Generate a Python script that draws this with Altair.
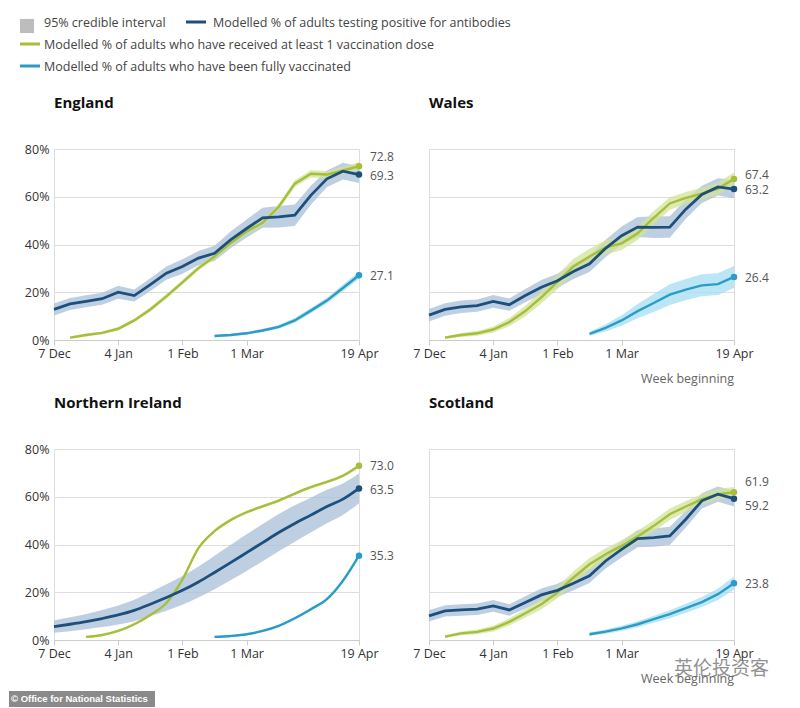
import altair as alt
import pandas as pd

# ---------------- data ----------------
WEEKS = ["2020-12-07", "2020-12-14", "2020-12-21", "2020-12-28", "2021-01-04",
         "2021-01-11", "2021-01-18", "2021-01-25", "2021-02-01", "2021-02-08",
         "2021-02-15", "2021-02-22", "2021-03-01", "2021-03-08", "2021-03-15",
         "2021-03-22", "2021-03-29", "2021-04-05", "2021-04-12", "2021-04-19"]
TICK_WEEKS = ["2020-12-07", "2021-01-04", "2021-02-01", "2021-03-01", "2021-04-19"]
COUNTRIES = ["England", "Wales", "Northern Ireland", "Scotland"]

N = None
# England
ENG_AB = [12.8, 15.1, 16.2, 17.3, 20.0, 18.6, 23.2, 28.0, 30.8, 34.3,
          36.3, 41.9, 46.7, 51.2, 51.6, 52.3, 60.6, 67.5, 70.7, 69.3]
ENG_AB_CI = [2.5, 2.5, 2.5, 2.5, 2.7, 2.5, 2.7, 2.8, 3.0, 3.0,
             3.2, 3.5, 3.8, 4.2, 4.5, 4.5, 4.0, 3.5, 3.5, 3.5]
ENG_D1 = [N, 1.0, 2.1, 3.0, 4.7, 8.2, 12.8, 18.3, 24.1, 30.1,
          35.0, 40.5, 45.4, 49.1, 55.8, 65.5, 69.6, 69.3, 71.0, 72.8]
ENG_D1_CI = [N, 0.5, 0.6, 0.6, 0.7, 0.8, 0.9, 1.0, 1.0, 1.0,
             1.1, 1.2, 1.2, 1.2, 1.3, 1.4, 1.5, 1.5, 1.6, 1.6]
ENG_FULL = [N, N, N, N, N, N, N, N, N, N,
            1.7, 2.1, 2.8, 4.0, 5.5, 8.2, 12.3, 16.5, 21.8, 27.1]
ENG_FULL_CI = [N, N, N, N, N, N, N, N, N, N,
               0.5, 0.5, 0.6, 0.7, 0.8, 1.0, 1.1, 1.2, 1.4, 1.6]

# Wales
WAL_AB = [10.4, 12.8, 13.9, 14.4, 16.2, 14.8, 18.6, 22.1, 24.8, 28.7,
          31.9, 38.4, 43.7, 47.3, 47.2, 47.3, 54.8, 61.0, 64.1, 63.2]
WAL_AB_CI = [2.6, 2.6, 2.6, 2.6, 2.7, 2.6, 2.8, 3.0, 3.0, 3.2,
             3.4, 3.6, 3.8, 4.2, 4.5, 4.5, 4.0, 3.6, 3.6, 3.8]
WAL_D1 = [N, 1.0, 2.1, 2.8, 4.4, 7.5, 12.1, 17.9, 24.3, 30.8,
          35.0, 38.8, 40.5, 44.7, 51.2, 57.2, 59.5, 61.3, 63.4, 67.4]
WAL_D1_CI = [N, 0.6, 0.8, 1.0, 1.3, 1.7, 2.2, 2.6, 3.0, 3.2,
             3.2, 3.0, 2.8, 2.8, 2.8, 2.6, 2.5, 2.5, 2.6, 2.8]
WAL_FULL = [N, N, N, N, N, N, N, N, N, N,
            2.6, 5.1, 8.2, 12.1, 15.5, 19.0, 21.1, 22.9, 23.4, 26.4]
WAL_FULL_CI = [N, N, N, N, N, N, N, N, N, N,
               0.8, 1.5, 2.2, 3.0, 3.8, 4.3, 4.5, 4.6, 4.6, 4.6]

# Northern Ireland
NI_AB = [5.6, 6.6, 7.7, 9.0, 10.5, 12.4, 15.0, 17.8, 20.8, 24.3,
         28.3, 32.4, 36.6, 40.8, 45.0, 48.8, 52.3, 55.9, 59.0, 63.5]
NI_AB_CI = [2.6, 2.9, 3.2, 3.6, 4.0, 4.5, 5.0, 5.5, 6.0, 6.5,
            7.0, 7.4, 7.7, 7.8, 7.8, 7.6, 7.3, 7.0, 6.6, 6.2]
NI_D1 = [N, N, 1.3, 2.1, 3.8, 6.6, 10.5, 15.5, 25.3, 38.5,
         45.6, 50.2, 53.5, 56.0, 58.4, 61.3, 64.0, 66.2, 68.8, 73.0]
NI_D1_CI = [N, N, 0.4, 0.4, 0.5, 0.5, 0.5, 0.6, 0.6, 0.6,
            0.6, 0.6, 0.6, 0.6, 0.6, 0.6, 0.6, 0.6, 0.6, 0.6]
NI_FULL = [N, N, N, N, N, N, N, N, N, N,
           1.3, 1.7, 2.4, 3.8, 5.9, 9.1, 12.9, 17.1, 24.8, 35.3]
NI_FULL_CI = [N, N, N, N, N, N, N, N, N, N,
              0.4, 0.4, 0.4, 0.5, 0.5, 0.5, 0.6, 0.6, 0.6, 0.6]

# Scotland
SCO_AB = [10.1, 12.2, 12.6, 12.9, 14.3, 12.6, 15.7, 18.9, 20.8, 23.8,
          26.9, 33.1, 38.0, 42.5, 42.9, 43.6, 50.6, 58.3, 61.1, 59.2]
SCO_AB_CI = [2.4, 2.4, 2.4, 2.4, 2.5, 2.4, 2.6, 2.7, 2.8, 3.0,
             3.0, 3.2, 3.4, 3.6, 3.8, 3.8, 3.5, 3.2, 3.2, 3.3]
SCO_D1 = [N, 1.4, 2.8, 3.4, 4.8, 7.6, 11.2, 15.0, 19.9, 26.2,
          31.7, 35.9, 39.4, 43.4, 47.8, 52.7, 55.9, 59.0, 61.1, 61.9]
SCO_D1_CI = [N, 0.6, 0.8, 1.0, 1.2, 1.5, 1.8, 2.1, 2.4, 2.6,
             2.6, 2.5, 2.4, 2.4, 2.4, 2.4, 2.3, 2.2, 2.2, 2.2]
SCO_FULL = [N, N, N, N, N, N, N, N, N, N,
            2.4, 3.5, 4.9, 6.6, 8.7, 10.8, 13.3, 15.9, 19.2, 23.8]
SCO_FULL_CI = [N, N, N, N, N, N, N, N, N, N,
               0.7, 0.9, 1.1, 1.3, 1.5, 1.7, 1.9, 2.1, 2.4, 2.8]

DATA = {
    "England": {"antibodies": (ENG_AB, ENG_AB_CI), "dose1": (ENG_D1, ENG_D1_CI), "full": (ENG_FULL, ENG_FULL_CI)},
    "Wales": {"antibodies": (WAL_AB, WAL_AB_CI), "dose1": (WAL_D1, WAL_D1_CI), "full": (WAL_FULL, WAL_FULL_CI)},
    "Northern Ireland": {"antibodies": (NI_AB, NI_AB_CI), "dose1": (NI_D1, NI_D1_CI), "full": (NI_FULL, NI_FULL_CI)},
    "Scotland": {"antibodies": (SCO_AB, SCO_AB_CI), "dose1": (SCO_D1, SCO_D1_CI), "full": (SCO_FULL, SCO_FULL_CI)},
}

LEGEND_LABELS = {
    "ci": "95% credible interval",
    "antibodies": "Modelled % of adults testing positive for antibodies",
    "dose1": "Modelled % of adults who have received at least 1 vaccination dose",
    "full": "Modelled % of adults who have been fully vaccinated",
}

# ---------------- styling ----------------
FONT = "Open Sans"
LINE_COLORS = {"antibodies": "#1d4f7c", "dose1": "#a5bf3b", "full": "#2a9cc6"}
BAND_COLORS = {"antibodies": "#a9bfd8", "dose1": "#d2e39a", "full": "#a6ddf1"}
LINE_WIDTH = {"antibodies": 2.8, "dose1": 2.4, "full": 2.4}
W, H = 305, 191

# pixel nudges for the end labels (to avoid overlaps)
NUDGE = {
    "England": {"antibodies": 1, "dose1": -9, "full": 1},
    "Wales": {"antibodies": 1, "dose1": -4, "full": 1},
    "Northern Ireland": {"antibodies": 2, "dose1": 0, "full": 0},
    "Scotland": {"antibodies": 7, "dose1": -10, "full": 1},
}


def dt(s):
    y, m, d = map(int, s.split("-"))
    return alt.DateTime(year=y, month=m, date=d, utc=True)


def frame(values, ci):
    idx = [i for i, v in enumerate(values) if v is not None]
    last = max(idx)
    rows = []
    for i in idx:
        rows.append({"date": WEEKS[i], "value": values[i],
                     "lo": values[i] - ci[i], "hi": values[i] + ci[i],
                     "last": i == last})
    return pd.DataFrame(rows)


X_SCALE = alt.Scale(type="utc", domain=[dt(WEEKS[0]), dt(WEEKS[-1])])
Y_SCALE = alt.Scale(domain=[0, 80], nice=False)
ONE = pd.DataFrame({"a": [1]})


def x_enc():
    return alt.X("date:T", scale=X_SCALE, title=None,
                 axis=alt.Axis(values=[dt(t) for t in TICK_WEEKS], format="%-d %b",
                               labelFlush=False, labelOverlap=False, grid=False,
                               domainColor="#cccccc", tickColor="#cccccc", tickSize=5,
                               labelFontSize=12.5, labelColor="#333333", labelPadding=2,
                               labelFont=FONT))


def y_axis(left):
    return alt.Axis(values=[0, 20, 40, 60, 80], labelExpr="datum.value + '%'",
                    grid=True, gridColor="#dedede", domain=False, ticks=False,
                    labels=left, labelPadding=5, labelFontSize=12.5,
                    labelColor="#333333", labelFont=FONT, title=None)


def static_text(text, x, y, size=12.5, color="#444444", weight="normal", align="left", font=FONT, opacity=1):
    return alt.Chart(ONE).mark_text(text=text, align=align, baseline="middle", fontSize=size,
                                    color=color, fontWeight=weight, font=font, opacity=opacity).encode(
        x=alt.value(x), y=alt.value(y))


def panel(country, left, week_label):
    interp = "monotone" if country == "Northern Ireland" else "linear"
    layers = []
    order = ["antibodies", "dose1", "full"]
    frames = {s: frame(*DATA[country][s]) for s in order}
    for s in order:
        layers.append(alt.Chart(frames[s]).mark_area(color=BAND_COLORS[s], opacity=0.75,
                                                     interpolate=interp).encode(
            x=x_enc(), y=alt.Y("lo:Q", scale=Y_SCALE, axis=y_axis(left)), y2="hi:Q"))
    for s in ["dose1", "full", "antibodies"]:
        layers.append(alt.Chart(frames[s]).mark_line(color=LINE_COLORS[s], strokeWidth=LINE_WIDTH[s],
                                                     interpolate=interp).encode(
            x=x_enc(), y=alt.Y("value:Q", scale=Y_SCALE, axis=y_axis(left))))
    for s in order:
        last = frames[s][frames[s]["last"]]
        layers.append(alt.Chart(last).mark_circle(color=LINE_COLORS[s], size=42, opacity=1).encode(
            x=x_enc(), y=alt.Y("value:Q", scale=Y_SCALE, axis=y_axis(left))))
        layers.append(alt.Chart(last).mark_text(align="left", baseline="middle", fontSize=12,
                                                color="#555555", font=FONT, dy=NUDGE[country][s]).encode(
            x=alt.value(W + 11), y=alt.Y("value:Q", scale=Y_SCALE, axis=y_axis(left)),
            text=alt.Text("value:Q", format=".1f")))
    layers.append(static_text(country, 0, -46, size=15, color="#111111", weight="bold"))
    if week_label:
        layers.append(static_text("Week beginning", W, H + 39, size=12.5, color="#666666", align="right"))
    return alt.layer(*layers).properties(width=W, height=H)


england = panel("England", True, False)

# legend (drawn in the England panel's coordinate frame)
legend = [
    alt.Chart(ONE).mark_square(color="#bdbdbd", size=200, opacity=1).encode(
        x=alt.value(-27), y=alt.value(-123)),
    static_text(LEGEND_LABELS["ci"], -10, -126),
    alt.Chart(ONE).mark_rule(color=LINE_COLORS["antibodies"], strokeWidth=3).encode(
        x=alt.value(132), x2=alt.value(152), y=alt.value(-127)),
    static_text(LEGEND_LABELS["antibodies"], 159, -126),
    alt.Chart(ONE).mark_rule(color=LINE_COLORS["dose1"], strokeWidth=3).encode(
        x=alt.value(-34), x2=alt.value(-14), y=alt.value(-105)),
    static_text(LEGEND_LABELS["dose1"], -10, -104),
    alt.Chart(ONE).mark_rule(color=LINE_COLORS["full"], strokeWidth=3).encode(
        x=alt.value(-34), x2=alt.value(-14), y=alt.value(-83)),
    static_text(LEGEND_LABELS["full"], -10, -82),
]
england = alt.layer(england, *legend)

wales = panel("Wales", False, True)

ni = panel("Northern Ireland", True, False)
ni = alt.layer(
    ni,
    alt.Chart(ONE).mark_rect(color="#8a8a8a").encode(
        x=alt.value(-45), x2=alt.value(101), y=alt.value(242), y2=alt.value(258)),
    static_text("© Office for National Statistics", -43, 250, size=9.5, color="#ffffff",
                weight="bold", font="Liberation Sans"),
)

scotland = panel("Scotland", False, True)
scotland = alt.layer(
    scotland,
    static_text("英伦投资客", 245, 220, size=19, color="#777777", font="Noto Sans CJK SC", opacity=0.8),
)

chart = alt.concat(england, wales, ni, scotland, columns=2,
                   spacing={"row": 109, "column": 70}, bounds="flush").properties(
    padding={"left": 0, "top": 8, "right": 5, "bottom": 0}
).configure_view(stroke=None).configure(font=FONT)

chart.save("out.html", embed_options={"renderer": "svg", "actions": False})
